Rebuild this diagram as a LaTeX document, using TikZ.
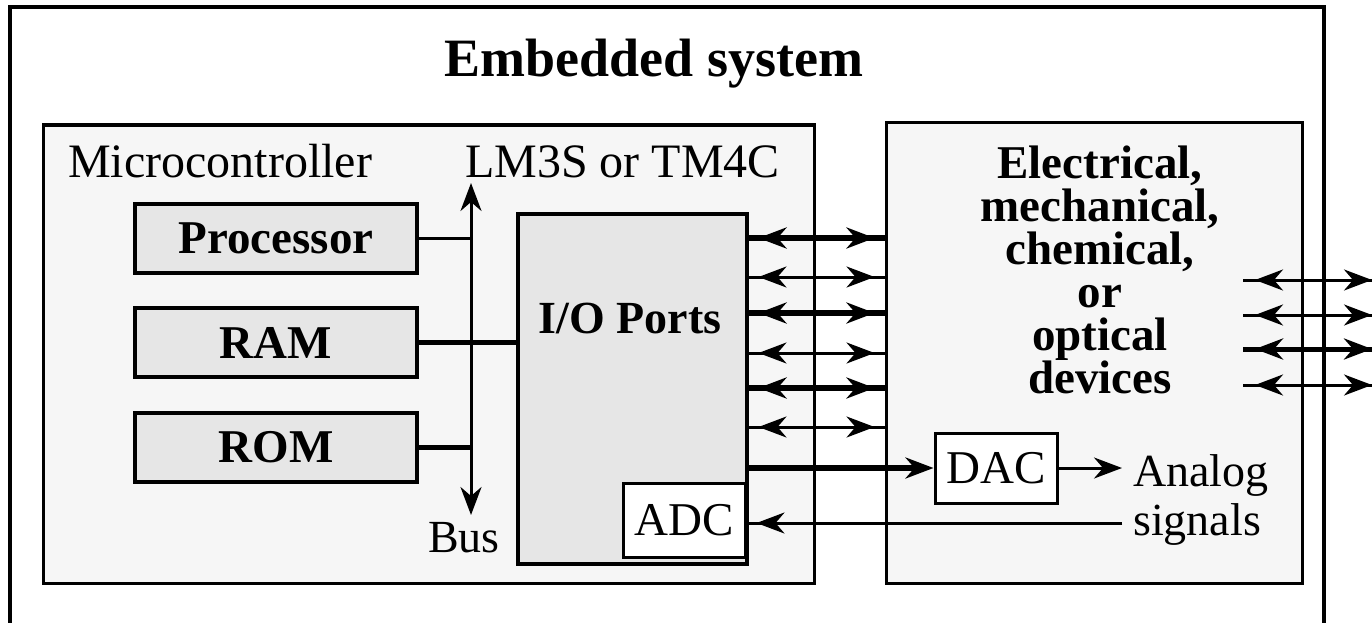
\documentclass[tikz,border=0pt]{standalone}
\usepackage{fontspec}
\setmainfont{Liberation Serif}
\usetikzlibrary{arrows.meta}
\definecolor{panelfill}{RGB}{246,246,246}
\definecolor{blockfill}{RGB}{230,230,230}

\begin{document}
\begin{tikzpicture}[x=1pt, y=-1pt,
      >={Stealth[length=28pt, width=21pt, inset=9pt]},
      panel/.style={draw, line width=3pt, fill=panelfill, inner sep=0pt},
      blk/.style={draw, line width=3.5pt, fill=blockfill, inner sep=0pt,
                  font=\fontsize{47}{50}\selectfont\bfseries},
      wblk/.style={draw, line width=3pt, fill=white, inner sep=0pt,
                   font=\fontsize{47}{50}\selectfont},
      lbl/.style={font=\fontsize{48}{50}\selectfont, inner sep=0pt},
      sig/.style={line width=3pt},
      sigbold/.style={line width=5.5pt},
    ]
    \useasboundingbox (0,0) rectangle (1372,623);
    %% outer frame (open at the bottom)
    \draw[line width=4.5pt] (10,623) -- (10,7) -- (1324,7) -- (1324,623);
    \node[lbl, font=\fontsize{54}{56}\selectfont\bfseries, anchor=base] (title) at (654,77) {Embedded system};
    %% the two panels
    \node[panel, minimum width=771pt, minimum height=458pt] (mcu) at (428.5,354) {};
    \node[panel, minimum width=416pt, minimum height=460pt] (dev) at (1094,353) {};
    \node[lbl, anchor=base west] (mculbl) at (68,177) {Microcontroller};
    \node[lbl, anchor=base west] (part) at (465,177) {LM3S or TM4C};
    %% bus
    \coordinate (bustop) at (471,183);
    \coordinate (busbot) at (471,515);
    \draw[sig, <->] (bustop) -- (busbot);
    \node[lbl, font=\fontsize{46}{50}\selectfont, anchor=base west] (buslbl) at (428,552) {Bus};
    %% memory and processor blocks
    \node[blk, minimum width=282pt, minimum height=69pt] (proc) at (276,238.5) {Processor};
    \node[blk, minimum width=282pt, minimum height=69pt] (ram) at (276,342.5) {RAM};
    \node[blk, minimum width=282pt, minimum height=69pt] (rom) at (276,447.5) {ROM};
    \draw[sig] (proc.east) -- (proc.east -| bustop);
    \draw[sigbold] (rom.east) -- (rom.east -| bustop);
    %% I/O ports
    \node[blk, minimum width=229pt, minimum height=350pt, anchor=north west] (io) at (516,212) {};
    \node[lbl, font=\fontsize{46}{50}\selectfont\bfseries, anchor=base] (iolbl) at (630,333) {I/O Ports};
    \draw[sigbold] (ram.east) -- (ram.east -| io.west);
    \node[wblk, minimum width=122pt, minimum height=74pt] (adc) at (684,520) {ADC};
    %% port lines
    \foreach \y/\lw in {238/5.5, 277/3, 313/5.5, 353/3, 388/5.5, 427/3}{
      \draw[line width=\lw pt] (io.east |- 0,\y) -- (dev.west |- 0,\y);
      \draw[line width=\lw pt, <->, shorten <=10pt, shorten >=10pt]
        (io.east |- 0,\y) -- (dev.west |- 0,\y);
    }
    %% devices
    \node[font=\fontsize{47}{43}\selectfont\bfseries, align=center, inner sep=0pt] (devlbl) at (1100,270)
      {Electrical,\\mechanical,\\chemical,\\or\\optical\\devices};
    \node[wblk, minimum width=122pt, minimum height=70pt] (dac) at (996,468) {DAC};
    \draw[sigbold, ->] (io.east |- dac.west) -- (dac.west);
    \coordinate (aout) at (1122,468);
    \coordinate (ain) at (1122,523);
    \draw[sig, ->] (dac.east) -- (aout);
    \draw[sig] (ain) -- (ain -| adc.east);
    \draw[sig, ->, shorten >=10pt] (ain) -- (ain -| adc.east);
    \node[lbl, font=\fontsize{46}{49}\selectfont, align=left, anchor=west] (analog) at (1133,500) {Analog\\signals};
    %% external lines
    \coordinate (extl) at (1243,0);
    \coordinate (extr) at (1372,0);
    \foreach \y/\lw in {280/3, 315/3, 349/5, 385/3}{
      \draw[line width=\lw pt] (extl |- 0,\y) -- (extr |- 0,\y);
      \draw[line width=\lw pt, <->, shorten <=12pt] (extl |- 0,\y) -- (extr |- 0,\y);
    }
\end{tikzpicture}
\end{document}
